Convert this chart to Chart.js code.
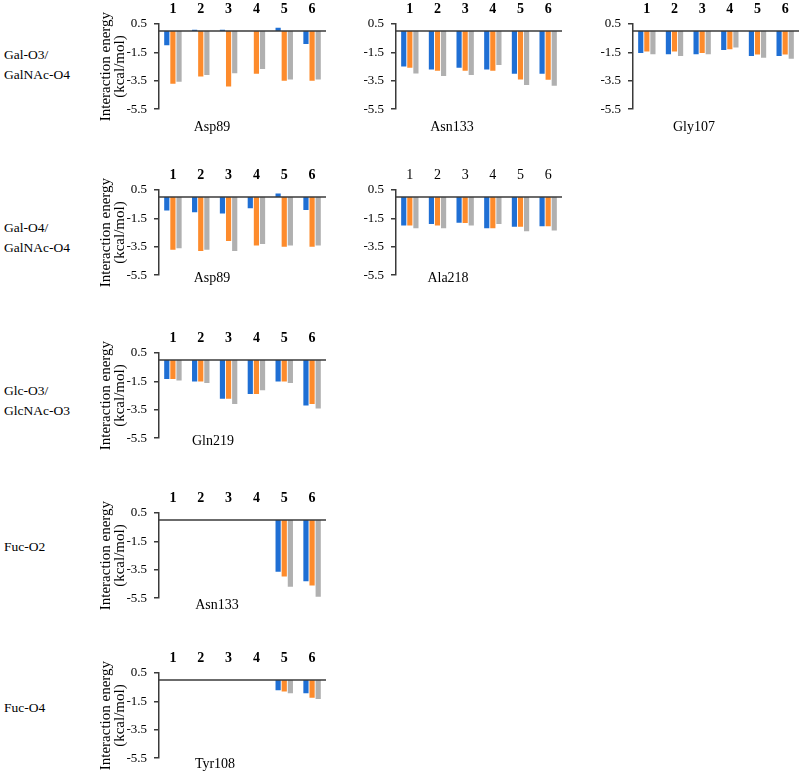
<!DOCTYPE html>
<html>
<head>
<meta charset="utf-8">
<script src="https://cdn.jsdelivr.net/npm/chart.js@4.4.1/dist/chart.umd.min.js"></script>
<style>
  body { margin: 0; background: #fff; width: 800px; height: 776px; position: relative; overflow: hidden; font-family: "Liberation Serif", serif; }
  canvas { position: absolute; }
  .row { position: absolute; left: 4px; font-size: 13.5px; line-height: 20px; color: #000; white-space: nowrap; }
  .res { position: absolute; font-size: 14px; color: #000; white-space: nowrap; transform: translate(-50%, -50%); }
</style>
</head>
<body>
<script>
const categories = ['1', '2', '3', '4', '5', '6'];
const seriesColors = ['#1f6fd4', '#fd8b2c', '#b0b0b0'];
const yTicks = { min: -5.5, max: 0.5, step: 2 };

// each panel: [blue, orange, gray]
const galO3Asp89 = [
  [-1.0, 0.1, 0.1, 0, 0.24, -0.9],
  [-3.7, -3.2, -3.9, -3.0, -3.5, -3.5],
  [-3.57, -3.1, -2.97, -2.67, -3.4, -3.4]
];
const galO3Asn133 = [
  [-2.5, -2.7, -2.58, -2.7, -3.0, -3.0],
  [-2.58, -2.8, -2.8, -2.8, -3.4, -3.42],
  [-2.99, -3.16, -3.1, -2.39, -3.8, -3.85]
];
const galO3Gly107 = [
  [-1.55, -1.63, -1.63, -1.33, -1.76, -1.76],
  [-1.44, -1.44, -1.55, -1.27, -1.65, -1.65],
  [-1.63, -1.76, -1.63, -1.16, -1.87, -1.94]
];
const galO4Asp89 = [
  [-0.95, -1.06, -1.16, -0.78, 0.25, -0.9],
  [-3.7, -3.8, -3.1, -3.4, -3.5, -3.5],
  [-3.6, -3.7, -3.8, -3.3, -3.4, -3.4]
];
const galO4Ala218 = [
  [-2.0, -1.9, -1.8, -2.2, -2.08, -2.05],
  [-2.0, -2.0, -1.82, -2.2, -2.08, -2.05],
  [-2.2, -2.2, -2.0, -1.9, -2.4, -2.35]
];
const glcO3Gln219 = [
  [-1.33, -1.51, -2.73, -2.38, -1.51, -3.2],
  [-1.33, -1.51, -2.73, -2.38, -1.51, -3.1],
  [-1.44, -1.62, -3.1, -2.13, -1.62, -3.4]
];
const fucO2Asn133 = [
  [null, null, null, null, -3.64, -4.3],
  [null, null, null, null, -3.97, -4.6],
  [null, null, null, null, -4.7, -5.4]
];
const fucO4Tyr108 = [
  [null, null, null, null, -0.72, -0.93],
  [null, null, null, null, -0.8, -1.24],
  [null, null, null, null, -0.93, -1.33]
];

const rowLabels = [
  { text: 'Gal-O3/<br>GalNAc-O4', top: 45 },
  { text: 'Gal-O4/<br>GalNAc-O4', top: 218 },
  { text: 'Glc-O3/<br>GlcNAc-O3', top: 381 },
  { text: 'Fuc-O2', top: 537 },
  { text: 'Fuc-O4', top: 698 }
];

const panels = [
  { data: galO3Asp89, residue: 'Asp89', col: 0, top: 24, resX: 212, resY: 127, bold: true },
  { data: galO3Asn133, residue: 'Asn133', col: 1, top: 24, resX: 452, resY: 127, bold: true },
  { data: galO3Gly107, residue: 'Gly107', col: 2, top: 24, resX: 694, resY: 127, bold: true },
  { data: galO4Asp89, residue: 'Asp89', col: 0, top: 190, resX: 212, resY: 278, bold: true },
  { data: galO4Ala218, residue: 'Ala218', col: 1, top: 190, resX: 448, resY: 278, bold: false },
  { data: glcO3Gln219, residue: 'Gln219', col: 0, top: 353, resX: 213, resY: 441, bold: true },
  { data: fucO2Asn133, residue: 'Asn133', col: 0, top: 513, resX: 217, resY: 605, bold: true },
  { data: fucO4Tyr108, residue: 'Tyr108', col: 0, top: 673, resX: 215, resY: 764, bold: true }
];

// axis x position, y-axis box width, plot width for each column
const columns = [
  { axisX: 159, axisW: 62, plotW: 167, title: true },
  { axisX: 396, axisW: 40, plotW: 166, title: false },
  { axisX: 633, axisW: 40, plotW: 166, title: false }
];

const topAxisH = 26;
const plotH = 92;

/* -----------------------------
   Zero line across the plot
------------------------------ */
const zeroLine = {
  id: 'zeroLine',
  afterDatasetsDraw(chart) {
    const { ctx, chartArea, scales } = chart;
    const y = scales.y.getPixelForValue(0);
    ctx.save();
    ctx.strokeStyle = '#3a3a3a';
    ctx.lineWidth = 1.5;
    ctx.beginPath();
    ctx.moveTo(chartArea.left, y);
    ctx.lineTo(chartArea.right, y);
    ctx.stroke();
    ctx.restore();
  }
};

rowLabels.forEach(r => {
  const d = document.createElement('div');
  d.className = 'row';
  d.style.top = r.top + 'px';
  d.innerHTML = r.text;
  document.body.appendChild(d);
});

panels.forEach(p => {
  const col = columns[p.col];
  const canvas = document.createElement('canvas');
  canvas.width = col.axisW + col.plotW;
  canvas.height = topAxisH + plotH + 8;
  canvas.style.left = (col.axisX - col.axisW) + 'px';
  canvas.style.top = (p.top - topAxisH) + 'px';
  document.body.appendChild(canvas);

  const lbl = document.createElement('div');
  lbl.className = 'res';
  lbl.style.left = p.resX + 'px';
  lbl.style.top = p.resY + 'px';
  lbl.textContent = p.residue;
  document.body.appendChild(lbl);

  new Chart(canvas.getContext('2d'), {
    type: 'bar',
    data: {
      labels: categories,
      datasets: p.data.map((vals, i) => ({
        data: vals,
        backgroundColor: seriesColors[i],
        borderWidth: 0,
        categoryPercentage: 0.66,
        barPercentage: 0.85
      }))
    },
    options: {
      responsive: false,
      animation: false,
      devicePixelRatio: 1,
      layout: { padding: 0 },
      plugins: { legend: { display: false }, tooltip: { enabled: false } },
      scales: {
        x: {
          position: 'top',
          grid: { display: false, drawTicks: false },
          border: { display: false },
          afterFit: s => { s.height = topAxisH; },
          ticks: {
            color: '#000',
            padding: 6,
            maxRotation: 0,
            font: { family: 'Liberation Serif', size: 14, weight: p.bold ? 'bold' : 'normal' }
          }
        },
        y: {
          min: yTicks.min,
          max: yTicks.max,
          afterFit: s => { s.width = col.axisW; },
          border: { color: '#3a3a3a', width: 1.5 },
          grid: { drawOnChartArea: false, drawTicks: true, tickLength: 5, color: '#3a3a3a', lineWidth: 1.5 },
          ticks: {
            stepSize: yTicks.step,
            color: '#000',
            padding: 7,
            font: { family: 'Liberation Serif', size: 13 },
            callback: v => Number(v).toFixed(1)
          },
          title: {
            display: col.title,
            text: ['Interaction energy', '(kcal/mol)'],
            color: '#000',
            padding: { top: 2, bottom: 0 },
            font: { family: 'Liberation Serif', size: 15, lineHeight: 0.95 }
          }
        }
      }
    },
    plugins: [zeroLine]
  });
});
</script>
</body>
</html>
